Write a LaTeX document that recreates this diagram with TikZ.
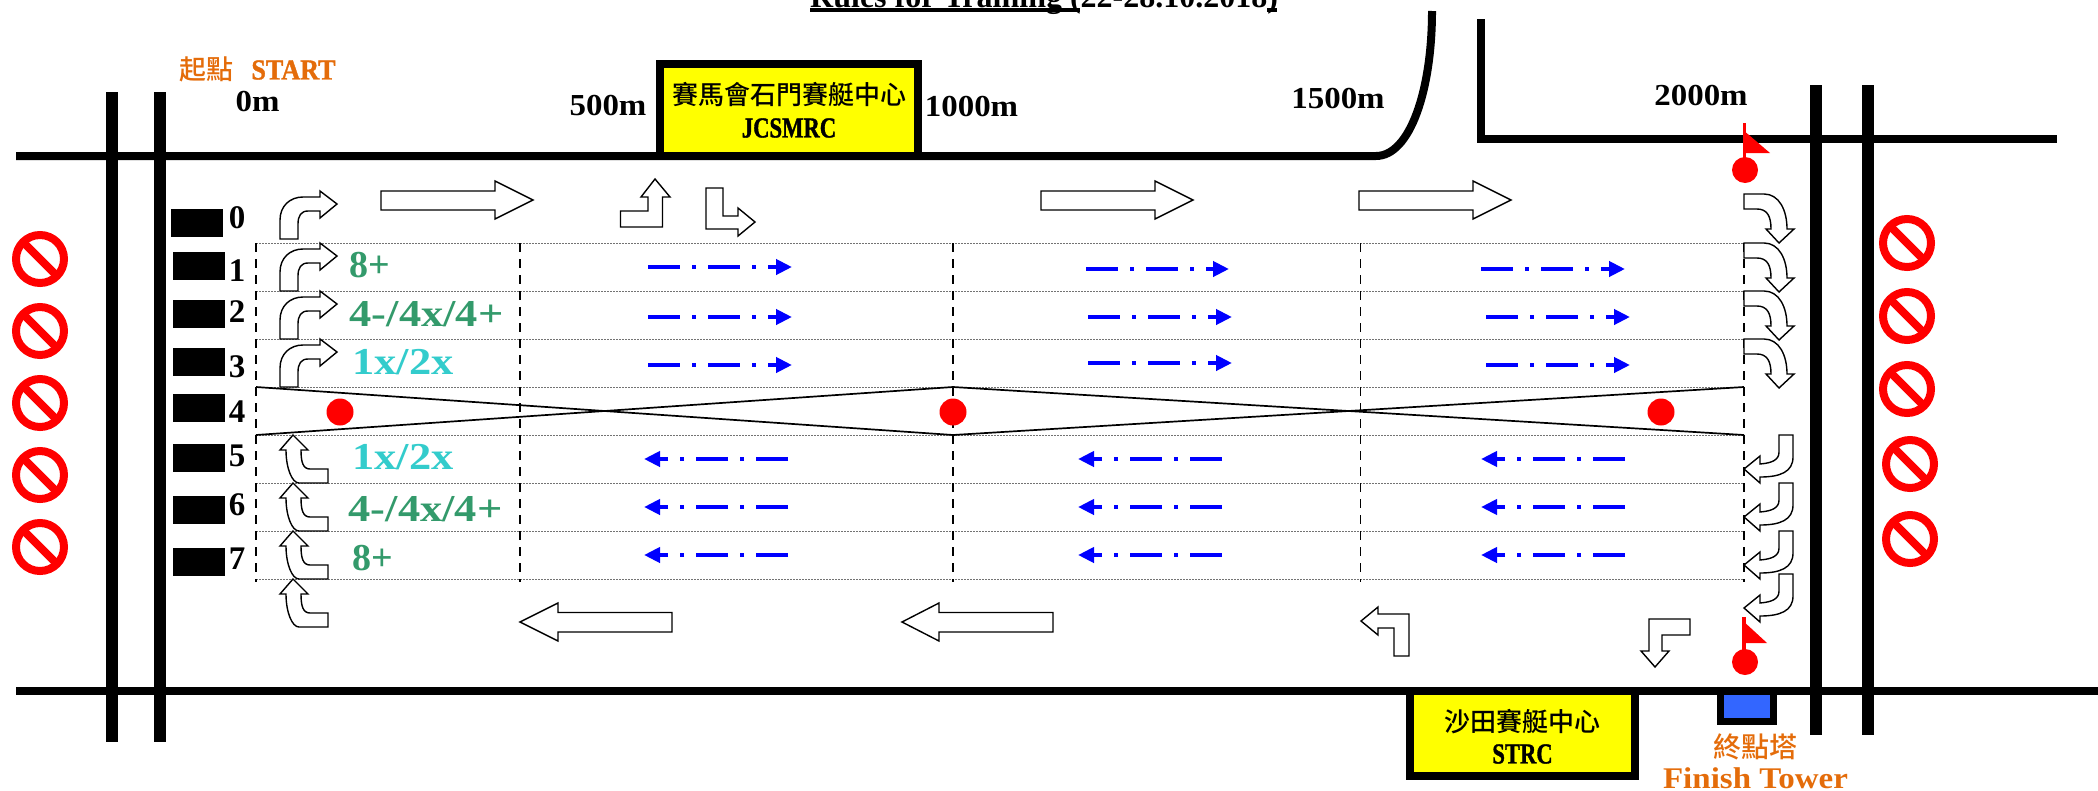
\documentclass[tikz,border=0pt]{standalone}
\usepackage{fontspec}
\usetikzlibrary{arrows.meta}
\newfontfamily\cam[FakeStretch=1.08]{Liberation Serif}
\newfontfamily\camc[FakeStretch=.78,FakeBold=1.2]{Liberation Serif}
\newfontfamily\cams[FakeStretch=.9,FakeBold=1.2]{Liberation Serif}
\newfontfamily\camf[FakeStretch=1.1]{Liberation Serif}
\newfontfamily\camw[FakeStretch=1.17]{Liberation Serif}
\newfontfamily\tms{Liberation Serif}
\newfontfamily\cjkm{Noto Sans CJK TC Medium}
\newcommand{\fsz}[1]{\fontsize{#1}{#1}\selectfont}
\definecolor{ors}{HTML}{E46C0A}
\definecolor{grn}{HTML}{339A6B}
\definecolor{cyn}{HTML}{33CCCC}
\definecolor{twr}{HTML}{3366FF}
\definecolor{ylw}{HTML}{FFFF00}
\tikzset{
  wall/.style={line width=8pt,draw=black,line cap=butt},
  post/.style={line width=12pt,draw=black,line cap=butt},
  lane/.style={line width=1pt,draw=black!55,dash pattern=on 1.5pt off 1.5pt},
  mark500/.style={line width=1.3pt,draw=black,dash pattern=on 9pt off 7pt},
  cross/.style={line width=1.7pt,draw=black},
  blk/.style={draw=black,fill=white,line width=1.4pt,line join=miter},
  flow/.style={draw=blue,line width=4pt,dash pattern=on 32pt off 12pt on 4pt off 12pt,-{Triangle[length=16pt,width=15pt]}},
  dock/.style={fill=black,draw=none},
  lbl/.style={inner sep=0pt,outer sep=0pt,font=\cam\bfseries\fsz{30.5}},
  caplbl/.style={inner sep=0pt,outer sep=0pt,font=\camc\bfseries\fsz{29}},
  dig/.style={inner sep=0pt,outer sep=0pt,font=\tms\bfseries\fsz{33}},
  grade/.style={inner sep=0pt,outer sep=0pt,font=\camw\bfseries\fsz{38}},
  gradeshort/.style={inner sep=0pt,outer sep=0pt,font=\tms\bfseries\fsz{38}},
  centre/.style={line width=8pt,draw=black,fill=ylw},
  cjktxt/.style={inner sep=0pt,font=\cjkm\fsz{26}},
  noentry/.style={draw=red,line width=8pt},
  dot/.style={fill=red,draw=none}
}
\begin{document}
\begin{tikzpicture}[x=1pt,y=-1pt]
\useasboundingbox (0,0) rectangle (2098,790);
% title
\node[inner sep=0pt,anchor=base west,font=\tms\bfseries\fsz{32}] (title) at (810,7) {Rules for Training (22-28.10.2018)};
\draw[line width=4pt] (810,10) -- (1080,10) (1267,10) -- (1277,10);
% walls
\draw[wall] (16,156) -- (1320,156) -- (1376,156) .. controls (1410,156) and (1432,90) .. (1432,11);
\draw[wall] (1481,19) -- (1481,139) -- (2057,139);
\draw[wall] (16,691) -- (2098,691);
\foreach \x in {112,160}{\draw[post] (\x,92) -- (\x,742);}
\draw[post] (1816,85) -- (1816,735);
\draw[post] (1868,85) -- (1868,735);
% centres
\draw[centre] (660,64) rectangle (917.5,156);
\node[cjktxt] (jc1) at (789.5,95) {賽馬會石門賽艇中心};
\node[caplbl] (jc2) at (789,128) {JCSMRC};
\draw[centre] (1409.5,691) rectangle (1635,775.5);
\node[cjktxt] (st1) at (1522,722) {沙田賽艇中心};
\node[caplbl] (st2) at (1522.5,754) {STRC};
\draw[line width=7pt,draw=black,fill=twr] (1720.5,691) rectangle (1773.5,721);
% distance labels
\node[lbl] (d0) at (257.5,102) {0m};
\node[lbl] (d500) at (608,106) {500m};
\node[lbl] (d1000) at (971.5,107) {1000m};
\node[lbl] (d1500) at (1338,99) {1500m};
\node[lbl] (d2000) at (1701,96) {2000m};
\node[inner sep=0pt,text=ors,font=\cjkm\fsz{27}] (s1) at (206.5,69.5) {起點};
\node[inner sep=0pt,text=ors,font=\cams\bfseries\fsz{29}] (s2) at (293.5,70) {START};
\node[inner sep=0pt,text=ors,font=\cjkm\fsz{28}] (f1) at (1755.5,747) {終點塔};
\node[inner sep=0pt,text=ors,anchor=base,font=\camf\bfseries\fsz{30}] (f2) at (1755.5,788) {Finish Tower};
% lanes
\foreach \y in {243,291,339,387,435,483,531,579}{\draw[lane] (256,\y) -- (1744,\y);}
\foreach \x in {256,520,953,1360.5,1744}{\draw[mark500] (\x,243) -- (\x,582);}
\draw[cross] (256,387) -- (953,435) -- (1744,387);
\draw[cross] (256,435) -- (953,387) -- (1744,435);
\draw[dot] (340,412) circle[radius=13.5pt];
\draw[dot] (953,412) circle[radius=13.5pt];
\draw[dot] (1661,412) circle[radius=13.5pt];
% finish flags
\draw[dot] (1745,170) circle[radius=13pt];
\fill[red] (1742.5,123) rectangle (1746,160);
\fill[red] (1743,130) -- (1770,153) -- (1743,153) -- cycle;
\draw[dot] (1745,662) circle[radius=13pt];
\fill[red] (1742,617) rectangle (1745.5,652);
\fill[red] (1742,620) -- (1767,643) -- (1742,643) -- cycle;
% docks
\fill[dock] (171,209) rectangle (223,237);
\foreach \y in {252,300,348,394,444,496,548}{\fill[dock] (173,\y) rectangle (225,\y+28);}
\foreach \n/\xx/\y in {0/237/218,1/237/271,2/237/312,3/237/367,4/237/412,5/237/456,6/237/505,7/237/559}{
  \node[dig] (n\n) at (\xx,\y) {\n};
}
% grade labels
\node[gradeshort,text=grn] (g1) at (370,265) {8+};
\node[grade,text=grn] (g2) at (426.5,314) {4-/4x/4+};
\node[grade,text=cyn] (g3) at (403,362) {1x/2x};
\node[grade,text=cyn] (g5) at (403,457) {1x/2x};
\node[grade,text=grn] (g6) at (425.5,509) {4-/4x/4+};
\node[gradeshort,text=grn] (g7) at (373,558) {8+};
% straight block arrows
\foreach \xa/\xb/\xc in {381/495/533,1041/1155/1193,1359/1473/1511}{
  \draw[blk] (\xa,191) -- (\xb,191) -- (\xb,181) -- (\xc,200) -- (\xb,219) -- (\xb,210) -- (\xa,210) -- cycle;
}
\foreach \xa/\xb/\xc in {672/558/520,1053/939/902}{
  \draw[blk] (\xa,612.5) -- (\xb,612.5) -- (\xb,603) -- (\xc,622) -- (\xb,641) -- (\xb,632) -- (\xa,632) -- cycle;
}
% corner block arrows
\draw[blk] (620.5,227) -- (662.5,227) -- (662.5,197) -- (670,197) -- (655,179) -- (641,197) -- (648,197) -- (648,211) -- (620.5,211) -- cycle;
\draw[blk] (706,188) -- (723,188) -- (723,216) -- (738,216) -- (738,208) -- (755,222) -- (738,236) -- (738,229) -- (706,229) -- cycle;
\draw[blk] (1409,656) -- (1409,614) -- (1378,614) -- (1378,607) -- (1361,621) -- (1378,635) -- (1378,628) -- (1394,628) -- (1394,656) -- cycle;
\draw[blk] (1649,619) -- (1690,619) -- (1690,635) -- (1662,635) -- (1662,651) -- (1669,651) -- (1655,667) -- (1641,651) -- (1649,651) -- cycle;
% curved arrows, start side going out
\foreach \d in {0,52,100,148}{
  \begin{scope}[shift={(0,\d)}]
  \draw[blk] (280,239) -- (280,220) .. controls (280,206) and (290,197) .. (303,197) -- (320,197) -- (320,191) -- (337,204) -- (320,218) -- (320,211) -- (308,211) .. controls (301,211) and (298,216) .. (298,224) -- (298,239) -- cycle;
  \end{scope}
}
% curved arrows, start side coming in
\foreach \d in {0,48,96,144}{
  \begin{scope}[shift={(0,\d)}]
  \draw[blk] (293,435) -- (308,450) -- (301,450) .. controls (301,462) and (303,469) .. (310,469) -- (328,469) -- (328,483) -- (299,483) .. controls (292,483) and (286,468) .. (286,450) -- (280,450) -- cycle;
  \end{scope}
}
% curved arrows, finish side going in
\foreach \d in {0,49,97,145}{
  \begin{scope}[shift={(0,\d)}]
  \draw[blk] (1744,194) -- (1764,194) .. controls (1779,194) and (1787,210) .. (1787,229) -- (1794,229) -- (1779,243) -- (1766,229) -- (1771,229) .. controls (1771,216) and (1767,209) .. (1757,209) -- (1744,209) -- cycle;
  \end{scope}
}
% curved arrows, finish side coming out
\foreach \d in {0,48,96,139}{
  \begin{scope}[shift={(0,\d)}]
  \draw[blk] (1793,435) -- (1779,435) -- (1779,452) .. controls (1779,460) and (1772,463) .. (1760,464) -- (1760,456) -- (1744,469) -- (1760,483) -- (1760,477) .. controls (1780,477) and (1793,472) .. (1793,457) -- cycle;
  \end{scope}
}
% blue flow arrows
\foreach \xa/\xb/\y in {648/792/267,648/792/317,648/792/365,1086/1229/269,1088/1232/317,1088/1232/363,1481/1625/269,1486/1630/317,1486/1630/365}{
  \draw[flow] (\xa,\y) -- (\xb,\y);
}
\foreach \xa/\xb/\y in {788/644/459,788/644/507,788/644/555,1222/1078/459,1222/1078/507,1222/1078/555,1625/1481/459,1625/1481/507,1625/1481/555}{
  \draw[flow] (\xa,\y) -- (\xb,\y);
}
% no-entry signs
\foreach \x/\y in {40/259,40/331,40/403,40/475,40/547,1907/243,1907/316,1907/389,1910/464,1910/539}{
  \draw[noentry] (\x,\y) circle[radius=24pt];
  \draw[noentry] (\x-17,\y-17) -- (\x+17,\y+17);
}
\end{tikzpicture}
\end{document}
